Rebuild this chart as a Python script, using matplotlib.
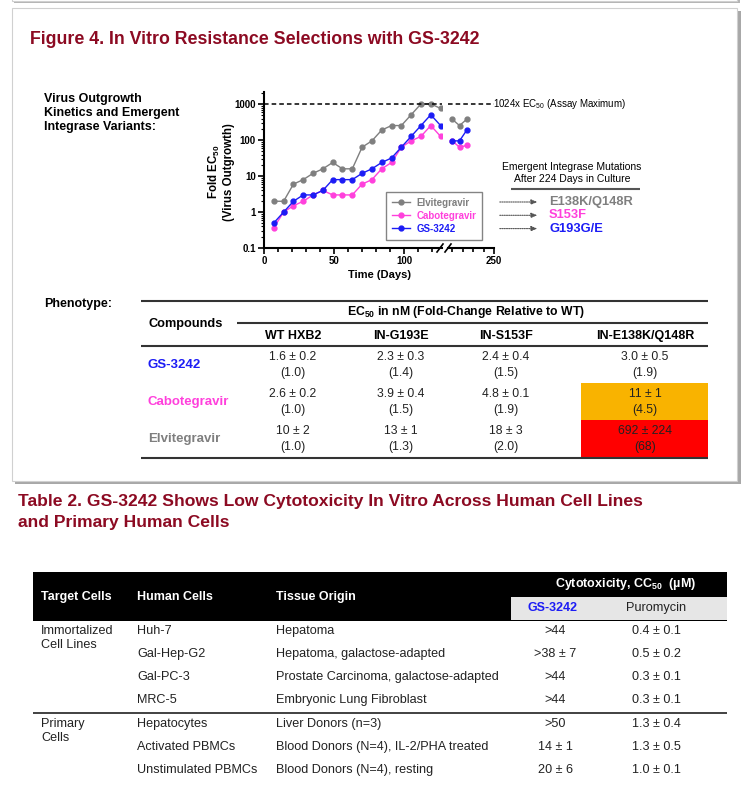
import numpy as np
import matplotlib.pyplot as plt
from matplotlib.patches import Rectangle
from matplotlib.ticker import FixedLocator, NullFormatter

W, H = 754, 795

# outgrowth kinetics (fold EC50), before and after the axis break
days_a = [7, 14, 21, 28, 35, 42, 49, 56, 63, 70, 77, 84, 91, 98, 105, 112, 119, 126]
days_b = [210, 217, 224]
elv_a = [2, 2, 6, 8, 12, 16, 24, 16, 16, 64, 96, 192, 256, 256, 512, 1024, 1024, 768]
elv_b = [384, 256, 384]
cab_a = [0.37, 1, 1.5, 2, 3, 4, 3, 3, 3, 6, 8, 16, 24, 64, 96, 128, 256, 128]
cab_b = [96, 64, 72]
gs_a = [0.5, 1, 2, 3, 3, 4, 8, 8, 8, 12, 16, 24, 32, 64, 128, 256, 512, 256]
gs_b = [96, 96, 192]
assay_max = 1024

mutations = ["E138K/Q148R", "S153F", "G193G/E"]

# phenotype table
t1_cols = ["WT HXB2", "IN-G193E", "IN-S153F", "IN-E138K/Q148R"]
t1_rows = ["GS-3242", "Cabotegravir", "Elvitegravir"]
t1_ec50 = [["1.6 ± 0.2", "2.3 ± 0.3", "2.4 ± 0.4", "3.0 ± 0.5"],
           ["2.6 ± 0.2", "3.9 ± 0.4", "4.8 ± 0.1", "11 ± 1"],
           ["10 ± 2", "13 ± 1", "18 ± 3", "692 ± 224"]]
t1_fold = [["(1.0)", "(1.4)", "(1.5)", "(1.9)"],
           ["(1.0)", "(1.5)", "(1.9)", "(4.5)"],
           ["(1.0)", "(1.3)", "(2.0)", "(68)"]]

# cytotoxicity table
t2_groups = ["Immortalized\nCell Lines", "Primary\nCells"]
t2_cells = ["Huh-7", "Gal-Hep-G2", "Gal-PC-3", "MRC-5",
            "Hepatocytes", "Activated PBMCs", "Unstimulated PBMCs"]
t2_tissue = ["Hepatoma", "Hepatoma, galactose-adapted", "Prostate Carcinoma, galactose-adapted",
             "Embryonic Lung Fibroblast", "Liver Donors (n=3)",
             "Blood Donors (N=4), IL-2/PHA treated", "Blood Donors (N=4), resting"]
t2_gs = [">44", ">38 ± 7", ">44", ">44", ">50", "14 ± 1", "20 ± 6"]
t2_puro = ["0.4 ± 0.1", "0.5 ± 0.2", "0.3 ± 0.1", "0.3 ± 0.1", "1.3 ± 0.4", "1.3 ± 0.5", "1.0 ± 0.1"]

GRAY = "#7f7f7f"
PINK = "#ff40dc"
BLUE = "#1c1cf5"
DARKRED = "#8c0a22"

plt.rcParams['font.family'] = ['Liberation Sans', 'DejaVu Sans']
plt.rcParams['mathtext.fontset'] = 'custom'
plt.rcParams['mathtext.rm'] = 'Liberation Sans'
plt.rcParams['mathtext.bf'] = 'Liberation Sans:bold'

fig = plt.figure(figsize=(W / 100, H / 100), dpi=100)
fig.patch.set_facecolor("white")

bg = fig.add_axes([0, 0, 1, 1])
bg.set_xlim(0, W)
bg.set_ylim(H, 0)
bg.axis("off")


def ax_at(x0, y0, x1, y1):
    return fig.add_axes([x0 / W, 1 - y1 / H, (x1 - x0) / W, (y1 - y0) / H])


def hline(y, x0, x1, lw=1.2, c="#333333"):
    bg.plot([x0, x1], [y, y], color=c, lw=lw, solid_capstyle="butt")


# panel frames
bg.add_patch(Rectangle((14, -10), 726, 13, fc="#b5b5b5", ec="none"))
bg.add_patch(Rectangle((12, -12), 725, 13, fc="white", ec="#d0d0d0", lw=0.8))
bg.add_patch(Rectangle((15, 11), 726, 473, fc="#a8a8a8", ec="none"))
bg.add_patch(Rectangle((12, 8), 725, 473, fc="white", ec="#d0d0d0", lw=0.8))

bg.text(30, 40, "Figure 4. In Vitro Resistance Selections with GS-3242",
        fontsize=12.8, fontweight="bold", color=DARKRED, va="center")
bg.text(44, 113, "Virus Outgrowth\nKinetics and Emergent\nIntegrase Variants:",
        fontsize=9, fontweight="bold", va="center", linespacing=1.22)
bg.text(44, 304, "Phenotype:", fontsize=9, fontweight="bold", va="center")

# chart, broken x axis
ax1 = ax_at(264, 92, 442, 248)
ax2 = ax_at(448, 92, 494, 248)
for ax, d, e, c, g, xl in [(ax1, days_a, elv_a, cab_a, gs_a, (0, 127)),
                           (ax2, days_b, elv_b, cab_b, gs_b, (206, 250))]:
    ax.set_yscale("log")
    ax.set_ylim(0.1, 2200)
    ax.set_xlim(*xl)
    ax.plot(d, e, color=GRAY, marker="o", ms=3.5, lw=1, label="Elvitegravir")
    ax.plot(d, c, color=PINK, marker="o", ms=3.5, lw=1, label="Cabotegravir")
    ax.plot(d, g, color=BLUE, marker="o", ms=3.5, lw=1, label="GS-3242")
    ax.axhline(assay_max, color="black", lw=1.1, ls=(0, (3, 2)))
    ax.patch.set_alpha(0)
    for s in ["top", "right"]:
        ax.spines[s].set_visible(False)
    ax.spines["bottom"].set_linewidth(1.5)
    ax.spines["left"].set_linewidth(1.5)
    ax.tick_params(axis="x", which="major", length=4, width=1.2, labelsize=7, pad=2)
    ax.tick_params(axis="x", which="minor", length=3, width=1.2)

ax1.xaxis.set_major_locator(FixedLocator([0, 50, 100]))
ax1.xaxis.set_minor_locator(FixedLocator([10, 20, 30, 40, 60, 70, 80, 90, 110, 120]))
ax1.set_xticklabels(["0", "50", "100"], fontweight="bold")
ax1.set_yticks([0.1, 1, 10, 100, 1000])
ax1.set_yticklabels(["0.1", "1", "10", "100", "1000"], fontweight="bold", fontsize=7)
ax1.tick_params(axis="y", which="major", length=4, width=1.2, pad=2)
ax1.tick_params(axis="y", which="minor", length=2, width=0.8)
ax1.yaxis.set_minor_formatter(NullFormatter())

ax2.spines["left"].set_visible(False)
ax2.tick_params(axis="y", which="both", left=False, labelleft=False)
ax2.xaxis.set_major_locator(FixedLocator([250]))
ax2.xaxis.set_minor_locator(FixedLocator([210, 220, 230, 240]))
ax2.set_xticklabels(["250"], fontweight="bold")

# break marks
for x in [440, 448]:
    bg.plot([x - 3, x + 3], [252, 244], color="black", lw=1.2)

bg.text(379, 275, "Time (Days)", ha="center", va="center", fontsize=8, fontweight="bold")
bg.text(221, 172, "Fold EC$_{\\mathbf{50}}$\n(Virus Outgrowth)", rotation=90, ha="center",
        va="center", fontsize=8.3, fontweight="bold", multialignment="center", linespacing=1.05)

bg.text(493, 104, "1024x EC$_{50}$ (Assay Maximum)", fontsize=7, va="center")

leg = ax1.legend(loc="upper left", bbox_to_anchor=(386 / W, 1 - 192 / H),
                 bbox_transform=fig.transFigure, fontsize=7, frameon=True,
                 fancybox=False, labelcolor="linecolor", handlelength=1.9,
                 borderpad=0.6, labelspacing=0.3, handletextpad=0.6, borderaxespad=0)
leg.get_frame().set_edgecolor("#666666")
leg.get_frame().set_linewidth(1.0)
for t in leg.get_texts():
    t.set_fontweight("bold")

bg.text(572, 173, "Emergent Integrase Mutations\nAfter 224 Days in Culture", ha="center",
        va="center", fontsize=7.5, linespacing=1.15)
hline(189, 511, 640, lw=1.5, c="#555555")
for i, (m, col) in enumerate(zip(mutations, [GRAY, PINK, BLUE])):
    y = 202 + i * 13.3
    bg.annotate("", xy=(540, y), xytext=(497, y),
                arrowprops=dict(arrowstyle="-|>,head_length=0.35,head_width=0.15",
                                color="#555555", lw=0.8, ls=(0, (1, 1))))
    bg.text(549, y, m, color=col, fontsize=9.3, fontweight="bold", va="center")

# table 1
hline(301, 141, 708, lw=1.5)
hline(323, 237, 708, lw=1.5)
hline(346, 141, 708, lw=1.5)
bg.text(186, 324, "Compounds", ha="center", va="center", fontsize=9.2, fontweight="bold")
bg.text(466, 312, "EC$_{\\mathbf{50}}$ in nM (Fold-Change Relative to WT)", ha="center",
        va="center", fontsize=8.8, fontweight="bold")
col_x = [293, 401, 506, 645]
for x, c in zip(col_x, t1_cols):
    bg.text(x, 336, c, ha="center", va="center", fontsize=9, fontweight="bold")
bg.add_patch(Rectangle((581, 383), 127, 37, fc="#f9b300", ec="none"))
bg.add_patch(Rectangle((581, 420), 127, 38, fc="#ff0000", ec="none"))
row_y = [365, 402, 439]
for i, (r, col) in enumerate(zip(t1_rows, [BLUE, PINK, GRAY])):
    bg.text(148, row_y[i], r, color=col, fontsize=9.5, fontweight="bold", va="center")
    for j, x in enumerate(col_x):
        bg.text(x, row_y[i] - 8, t1_ec50[i][j], ha="center", va="center", fontsize=8.7,
                color="#222222")
        bg.text(x, row_y[i] + 8, t1_fold[i][j], ha="center", va="center", fontsize=8.7,
                color="#222222")
hline(458, 141, 708, lw=1.5)

# table 2
bg.text(18, 512, "Table 2. GS-3242 Shows Low Cytotoxicity In Vitro Across Human Cell Lines\n"
        "and Primary Human Cells", fontsize=12.6, fontweight="bold",
        color=DARKRED, va="center", linespacing=1.55)
bg.add_patch(Rectangle((33, 572), 694, 49, fc="black", ec="none"))
bg.add_patch(Rectangle((511, 597), 216, 23, fc="#e6e6e6", ec="none"))
for x, s in [(41, "Target Cells"), (137, "Human Cells"), (276, "Tissue Origin")]:
    bg.text(x, 597, s, color="white", fontsize=9, fontweight="bold", va="center")
bg.text(626, 584, "Cytotoxicity, CC$_{\\mathbf{50}}$  (µM)", color="white", fontsize=9,
        fontweight="bold", ha="center", va="center")
bg.text(553, 608, "GS-3242", color=BLUE, fontsize=9, fontweight="bold", ha="center",
        va="center")
bg.text(656, 608, "Puromycin", fontsize=9.2, ha="center", va="center", color="#222222")

t2_y = [631, 654, 677, 700, 724, 747, 770]
kw = dict(fontsize=9.1, va="center", color="#222222")
for i in range(len(t2_cells)):
    y = t2_y[i]
    bg.text(137, y, t2_cells[i], **kw)
    bg.text(276, y, t2_tissue[i], **kw)
    bg.text(555, y, t2_gs[i], ha="center", **kw)
    bg.text(656, y, t2_puro[i], ha="center", **kw)
bg.text(41, 638, t2_groups[0], linespacing=1.3, **kw)
bg.text(41, 731, t2_groups[1], linespacing=1.3, **kw)
hline(713, 33, 727, lw=1.3)

fig.savefig("out.png", dpi=100)
